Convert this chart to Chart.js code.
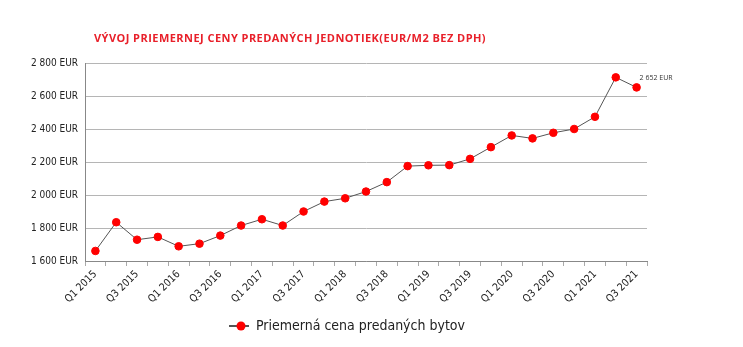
<!DOCTYPE html>
<html>
<head>
<meta charset="utf-8">
<script src="https://cdn.jsdelivr.net/npm/chart.js@4.4.1/dist/chart.umd.min.js"></script>
<style>
  html, body { margin: 0; padding: 0; background: #fff; }
  #wrap { width: 743px; height: 347px; position: relative; }
</style>
</head>
<body>
<div id="wrap"><canvas id="priceChart" width="743" height="347"></canvas></div>
<script>
// quarters Q1 2015 .. Q3 2021
var quarters = ['Q1 2015','Q2 2015','Q3 2015','Q4 2015',
  'Q1 2016','Q2 2016','Q3 2016','Q4 2016',
  'Q1 2017','Q2 2017','Q3 2017','Q4 2017',
  'Q1 2018','Q2 2018','Q3 2018','Q4 2018',
  'Q1 2019','Q2 2019','Q3 2019','Q4 2019',
  'Q1 2020','Q2 2020','Q3 2020','Q4 2020',
  'Q1 2021','Q2 2021','Q3 2021'];
// average price EUR/m2 without VAT
var avgPrice = [1661, 1835, 1729, 1746, 1689, 1705, 1754, 1815,
  1853, 1815, 1900, 1960, 1980, 2021, 2078, 2175,
  2180, 2181, 2219, 2290, 2361, 2343, 2377, 2400,
  2474, 2713, 2652];
var yTicks = [1600, 1800, 2000, 2200, 2400, 2600, 2800];

var chartTitle = 'VÝVOJ PRIEMERNEJ CENY PREDANÝCH JEDNOTIEK(EUR/M2 BEZ DPH)';
var seriesName = 'Priemerná cena predaných bytov';

function fmtEur(v) {
  return String(v).replace(/\B(?=(\d{3})+(?!\d))/g, ' ') + ' EUR';
}

// title, legend and the label of the last value
var decorations = {
  id: 'decorations',
  afterDraw: function(chart) {
    var ctx = chart.ctx;
    ctx.save();

    ctx.fillStyle = '#e8202a';
    ctx.font = 'bold 11px "Open Sans", sans-serif';
    ctx.textBaseline = 'middle';
    ctx.textAlign = 'left';
    if ('letterSpacing' in ctx) ctx.letterSpacing = '0.45px';
    ctx.fillText(chartTitle, 94, 38.5);
    if ('letterSpacing' in ctx) ctx.letterSpacing = '0px';

    // last point label
    var meta = chart.getDatasetMeta(0);
    var last = meta.data[meta.data.length - 1];
    ctx.fillStyle = '#333';
    ctx.font = '7px "Open Sans", sans-serif';
    ctx.fillText(fmtEur(avgPrice[avgPrice.length - 1]), last.x + 3, 78);

    // legend
    var lx = 229, ly = 326;
    ctx.strokeStyle = '#555';
    ctx.lineWidth = 2;
    ctx.beginPath();
    ctx.moveTo(lx, ly);
    ctx.lineTo(lx + 20, ly);
    ctx.stroke();
    ctx.fillStyle = '#ff0000';
    ctx.beginPath();
    ctx.arc(lx + 12, ly, 4.5, 0, Math.PI * 2);
    ctx.fill();
    ctx.fillStyle = '#222';
    ctx.font = '14px "Liberation Sans Narrow", "DejaVu Sans Condensed", sans-serif';
    ctx.fillText(seriesName, lx + 27, ly);

    ctx.restore();
  }
};

var ctx = document.getElementById('priceChart').getContext('2d');
new Chart(ctx, {
  type: 'line',
  data: {
    labels: quarters,
    datasets: [{
      label: seriesName,
      data: avgPrice,
      borderColor: '#555',
      borderWidth: 1,
      pointBackgroundColor: '#ff0000',
      pointBorderColor: '#ff0000',
      pointRadius: 3.8,
      pointHoverRadius: 3.8,
      tension: 0,
      fill: false
    }]
  },
  options: {
    responsive: false,
    animation: false,
    layout: { padding: { left: 0, right: 96, top: 63, bottom: 0 } },
    plugins: {
      legend: { display: false },
      title: { display: false },
      tooltip: { enabled: false }
    },
    scales: {
      x: {
        offset: true,
        afterFit: function(s) { s.height = 86; },
        grid: {
          display: true,
          offset: true,
          drawOnChartArea: false,
          drawTicks: true,
          tickLength: 5,
          color: '#aaa'
        },
        border: { color: '#888', width: 1 },
        ticks: {
          autoSkip: false,
          minRotation: 45,
          maxRotation: 45,
          padding: 2,
          color: '#222',
          font: { size: 10.5, family: '"Liberation Sans Narrow", "DejaVu Sans Condensed", sans-serif' },
          callback: function(val, i) { return i % 2 === 0 ? quarters[i] : ''; }
        }
      },
      y: {
        min: 1600,
        max: 2800,
        afterFit: function(s) { s.width = 85; },
        afterBuildTicks: function(s) {
          s.ticks = yTicks.map(function(v) { return { value: v }; });
        },
        grid: { color: '#b5b5b5', drawTicks: false },
        border: { color: '#888', width: 1 },
        ticks: {
          padding: 7,
          color: '#222',
          font: { size: 10, family: '"Liberation Sans Narrow", "DejaVu Sans Condensed", sans-serif' },
          callback: function(v) { return fmtEur(v); }
        }
      }
    }
  },
  plugins: [decorations]
});
</script>
</body>
</html>
